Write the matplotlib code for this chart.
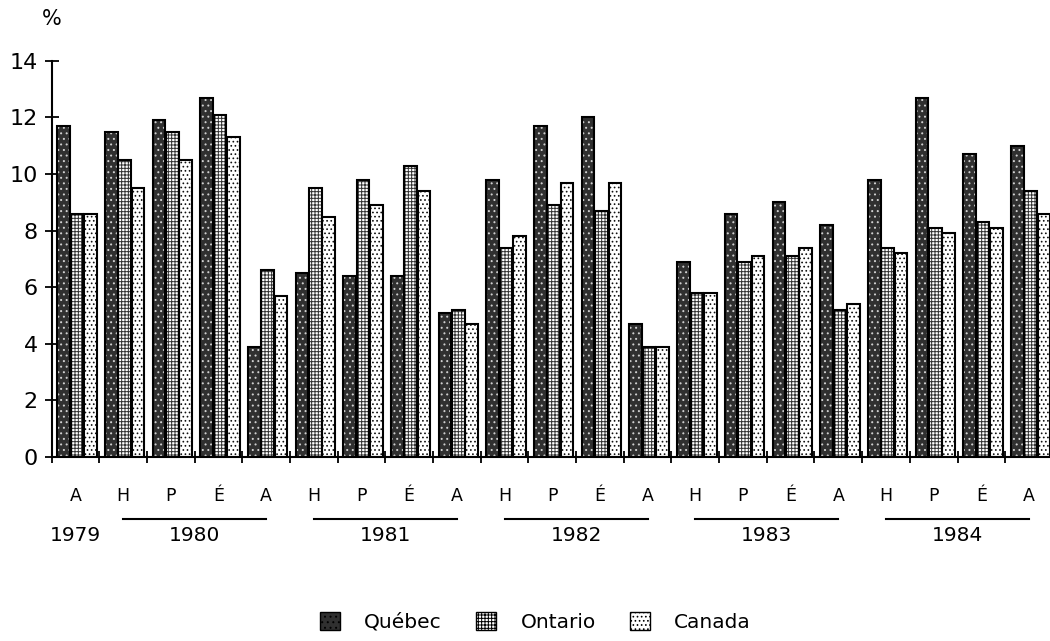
import numpy as np
import matplotlib
matplotlib.use("Agg")
import matplotlib.pyplot as plt
from matplotlib.patches import Patch

# --- data ---
quarters = ["A",
            "H", "P", "É", "A",
            "H", "P", "É", "A",
            "H", "P", "É", "A",
            "H", "P", "É", "A",
            "H", "P", "É", "A"]
years = ["1979", "1980", "1981", "1982", "1983", "1984"]
year_first = [0, 1, 5, 9, 13, 17]   # first quarter index of each year
year_last = [0, 4, 8, 12, 16, 20]   # last quarter index of each year

quebec = [11.7, 11.5, 11.9, 12.7, 3.9, 6.5, 6.4, 6.4, 5.1, 9.8, 11.7,
          12.0, 4.7, 6.9, 8.6, 9.0, 8.2, 9.8, 12.7, 10.7, 11.0]
ontario = [8.6, 10.5, 11.5, 12.1, 6.6, 9.5, 9.8, 10.3, 5.2, 7.4, 8.9,
           8.7, 3.9, 5.8, 6.9, 7.1, 5.2, 7.4, 8.1, 8.3, 9.4]
canada = [8.6, 9.5, 10.5, 11.3, 5.7, 8.5, 8.9, 9.4, 4.7, 7.8, 9.7,
          9.7, 3.9, 5.8, 7.1, 7.4, 5.4, 7.2, 7.9, 8.1, 8.6]

series = ["Québec", "Ontario", "Canada"]

# --- style ---
STYLE = {
    "Québec":  dict(face="#303030", hatch="...", hcol="#d0d0d0"),
    "Ontario": dict(face="white", hatch="+++++", hcol="#333333"),
    "Canada":  dict(face="white", hatch="....", hcol="#111111"),
}
BAR_W = 0.265
OFFSETS = [0.12, 0.40, 0.68]
FONT = "DejaVu Sans"

plt.rcParams.update({"font.family": FONT, "hatch.linewidth": 0.7})

fig = plt.figure(figsize=(10.5, 6.41), dpi=100)
ax = fig.add_axes([0.0492, 0.287, 0.9508, 0.618])

x = np.arange(len(quarters))
for name, vals, off in zip(series, [quebec, ontario, canada], OFFSETS):
    st = STYLE[name]
    ax.bar(x + off, vals, width=BAR_W, align="edge", color=st["face"],
           hatch=st["hatch"], edgecolor=st["hcol"], linewidth=0, zorder=2)
    ax.bar(x + off, vals, width=BAR_W, align="edge", facecolor="none",
           edgecolor="black", linewidth=1.5, zorder=3)

ax.set_xlim(0, 20.94)
ax.set_ylim(0, 14)
ax.set_yticks(range(0, 15, 2))
ax.set_xticks(x)
ax.set_xticklabels([])
ax.tick_params(axis="y", direction="inout", length=10, width=1.3,
               labelsize=16, pad=5)
ax.tick_params(axis="x", direction="inout", length=9, width=1.3)
for s in ["top", "right"]:
    ax.spines[s].set_visible(False)
for s in ["left", "bottom"]:
    ax.spines[s].set_linewidth(1.5)

tr = ax.get_xaxis_transform()
for i, q in enumerate(quarters):
    ax.text(i + 0.5, -0.098, q, transform=tr, ha="center", va="center",
            fontsize=12.5)

for y, a, b in zip(years, year_first, year_last):
    if b > a:
        ax.plot([a + 0.5, b + 0.5], [-0.156, -0.156], transform=tr,
                color="black", lw=1.5, clip_on=False)
    ax.text((a + b) / 2 + 0.5, -0.198, y, transform=tr, ha="center",
            va="center", fontsize=14.5)

ax.text(0, 1.105, "%", transform=ax.transAxes, ha="center", va="center",
        fontsize=15)

handles = [Patch(facecolor=STYLE[n]["face"], hatch=STYLE[n]["hatch"],
                 edgecolor="black", linewidth=1.0, label=n) for n in series]
fig.legend(handles=handles, loc="center", bbox_to_anchor=(0.51, 0.03),
           ncol=3, frameon=False, fontsize=14.5, handlelength=1.0,
           handleheight=1.0, handletextpad=1.2, columnspacing=1.7)

fig.savefig("out.png", dpi=100)
